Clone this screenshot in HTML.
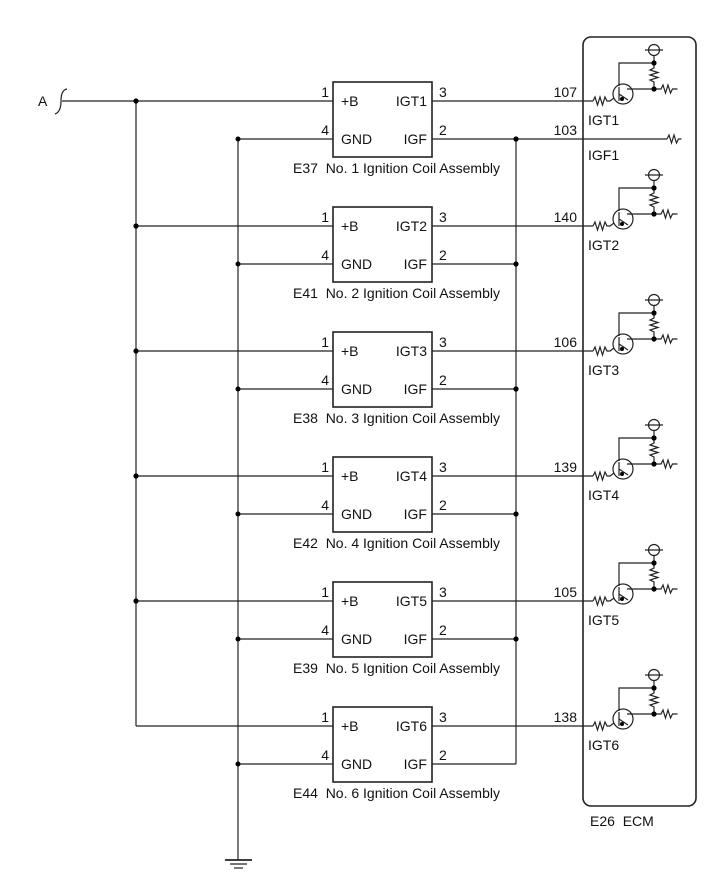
<!DOCTYPE html>
<html><head><style>
html,body{margin:0;padding:0;background:#fff;}
svg{display:block;font-family:"Liberation Sans",Arial,sans-serif;}
text{font-size:14px;fill:#111;white-space:pre;}
.w{stroke:#222;stroke-width:1.2;fill:none;}
</style></head><body>
<svg width="713" height="882" viewBox="0 0 713 882" xmlns="http://www.w3.org/2000/svg">
<defs>
<g id="row">
<line class="w" x1="136" y1="101" x2="333" y2="101"/>
<line class="w" x1="238" y1="139" x2="333" y2="139"/>
<line class="w" x1="432" y1="139" x2="516" y2="139"/>
<line class="w" x1="432" y1="101" x2="593" y2="101"/>
<rect x="333" y="82" width="99" height="75" fill="#fff" stroke="#222" stroke-width="1.6"/>
<circle cx="238" cy="139" r="2.5" fill="#000"/>
<text x="341" y="106">+B</text>
<text x="341" y="144">GND</text>
<text x="427" y="144" text-anchor="end">IGF</text>
<text x="329" y="97" text-anchor="end">1</text>
<text x="329" y="135" text-anchor="end">4</text>
<text x="439" y="97">3</text>
<text x="439" y="135">2</text>
<path class="w" d="M593 101 l2 -4 l2.5 8 l2.5 -8 l2.5 8 l2.5 -8 l2 4 l3 0 l4 -3"/>
<circle class="w" cx="623" cy="94" r="10"/>
<path class="w" d="M619 86 L619 63 L654 63 M627 89 L654 89 M619 87 L619 101 M619 94 L628 100"/>
<circle class="w" cx="654" cy="50" r="5.5"/>
<path class="w" d="M645 50 L663 50 M654 55.5 L654 68 l-4 2 l8 2.5 l-8 2.5 l8 2.5 l-8 2.5 l4 2 L654 89 L661 89 l2 -4 l2.5 8 l2.5 -8 l2.5 8 l2 -4 l5 0"/>
<circle cx="654" cy="63" r="2.6" fill="#000"/>
<circle cx="654" cy="89" r="2.6" fill="#000"/>
<circle cx="622" cy="99" r="2" fill="#000"/>
</g>
<g id="dots">
<circle cx="136" cy="101" r="2.6" fill="#000"/>
<circle cx="516" cy="139" r="2.6" fill="#000"/>
</g>
</defs>
<path class="w" d="M67 89 Q61 90 61 101 Q61 112 55 114" stroke-width="1.5"/>
<line class="w" x1="62" y1="101" x2="136" y2="101"/>
<line class="w" x1="136" y1="101" x2="136" y2="726"/>
<line class="w" x1="238" y1="139" x2="238" y2="860"/>
<line class="w" x1="516" y1="139" x2="516" y2="764"/>
<line x1="225" y1="860" x2="252" y2="860" stroke="#222" stroke-width="1.8"/>
<line class="w" x1="230" y1="864" x2="247" y2="864"/>
<line class="w" x1="234" y1="868" x2="243" y2="868"/>
<rect x="583" y="37" width="113" height="769" rx="8" fill="none" stroke="#222" stroke-width="1.6"/>
<line class="w" x1="516" y1="139" x2="667" y2="139"/>
<path class="w" d="M667 139 l2 -4 l2.5 8 l2.5 -8 l2.5 8 l2 -4 l3 0"/>

<use href="#row"/>
<use href="#row" transform="translate(0,125)"/>
<use href="#row" transform="translate(0,250)"/>
<use href="#row" transform="translate(0,375)"/>
<use href="#row" transform="translate(0,500)"/>
<use href="#row" transform="translate(0,625)"/>
<use href="#dots"/>
<use href="#dots" transform="translate(0,125)"/>
<use href="#dots" transform="translate(0,250)"/>
<use href="#dots" transform="translate(0,375)"/>
<use href="#dots" transform="translate(0,500)"/>

<text x="427" y="106" text-anchor="end">IGT1</text>
<text x="427" y="231" text-anchor="end">IGT2</text>
<text x="427" y="356" text-anchor="end">IGT3</text>
<text x="427" y="481" text-anchor="end">IGT4</text>
<text x="427" y="606" text-anchor="end">IGT5</text>
<text x="427" y="731" text-anchor="end">IGT6</text>

<text x="588" y="125">IGT1</text>
<text x="588" y="250">IGT2</text>
<text x="588" y="375">IGT3</text>
<text x="588" y="500">IGT4</text>
<text x="588" y="625">IGT5</text>
<text x="588" y="750">IGT6</text>

<text x="577" y="97" text-anchor="end">107</text>
<text x="577" y="222" text-anchor="end">140</text>
<text x="577" y="347" text-anchor="end">106</text>
<text x="577" y="472" text-anchor="end">139</text>
<text x="577" y="597" text-anchor="end">105</text>
<text x="577" y="722" text-anchor="end">138</text>

<text x="293" y="173">E37  No. 1 Ignition Coil Assembly</text>
<text x="293" y="298">E41  No. 2 Ignition Coil Assembly</text>
<text x="293" y="423">E38  No. 3 Ignition Coil Assembly</text>
<text x="293" y="548">E42  No. 4 Ignition Coil Assembly</text>
<text x="293" y="673">E39  No. 5 Ignition Coil Assembly</text>
<text x="293" y="798">E44  No. 6 Ignition Coil Assembly</text>

<text x="38" y="106">A</text>
<text x="577" y="135" text-anchor="end">103</text>
<text x="588" y="160">IGF1</text>
<text x="590" y="826">E26  ECM</text>
</svg>
</body></html>
